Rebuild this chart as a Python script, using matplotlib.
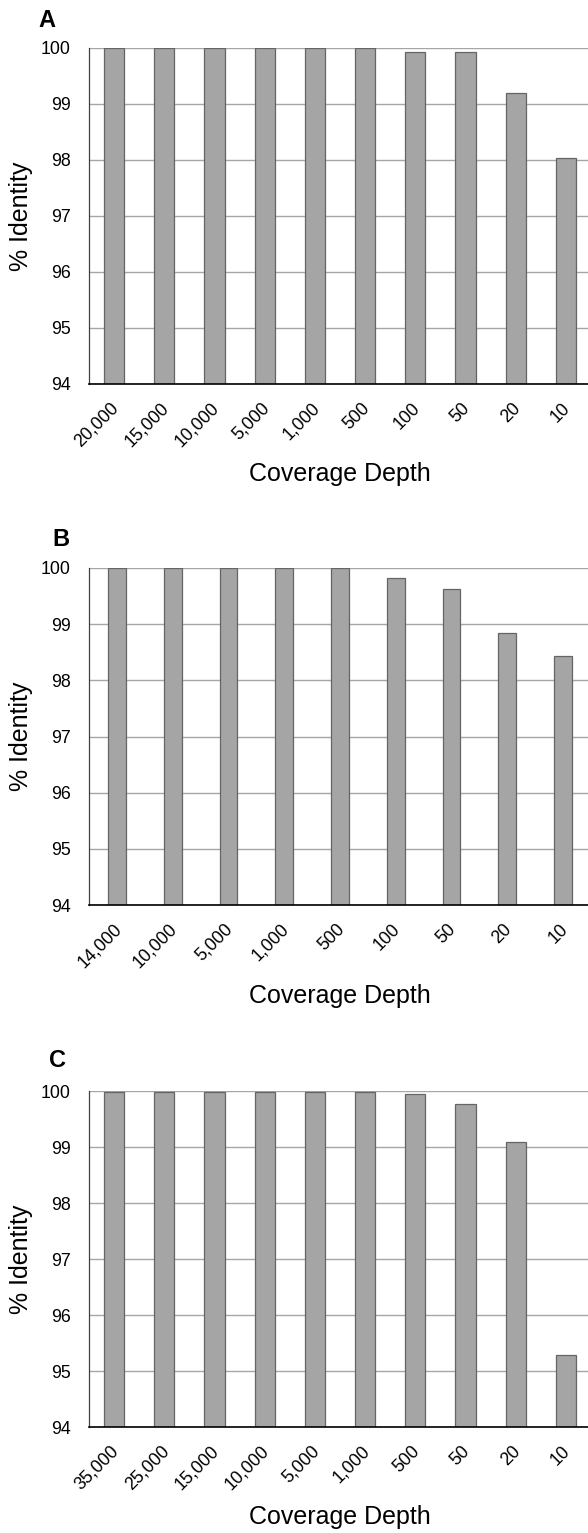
import matplotlib
matplotlib.use("Agg")
import matplotlib.pyplot as plt
import matplotlib.transforms as mtransforms

plt.rcParams['font.family'] = ['Liberation Sans', 'DejaVu Sans']

# coverage depth categories and % identity for the three panels
depth_a = ["20,000", "15,000", "10,000", "5,000", "1,000", "500", "100", "50", "20", "10"]
ident_a = [100, 100, 100, 100, 100, 100, 99.93, 99.93, 99.2, 98.04]

depth_b = ["14,000", "10,000", "5,000", "1,000", "500", "100", "50", "20", "10"]
ident_b = [100, 100, 100, 100, 100, 99.83, 99.63, 98.84, 98.44]

depth_c = ["35,000", "25,000", "15,000", "10,000", "5,000", "1,000", "500", "50", "20", "10"]
ident_c = [99.98, 99.98, 99.98, 99.98, 99.98, 99.98, 99.94, 99.77, 99.09, 95.29]

W, H = 588, 1533
fig = plt.figure(figsize=(W / 100, H / 100), dpi=100)

panels = [
    ("A", depth_a, ident_a, 48, 384, 0.40, 38, 27),
    ("B", depth_b, ident_b, 568, 905, 0.32, 52, 546),
    ("C", depth_c, ident_c, 1091, 1427, 0.40, 49, 1067),
]

shift = mtransforms.ScaledTranslation(-4 / 100, 0, fig.dpi_scale_trans)

for letter, cats, vals, top, bottom, bw, lx, ly in panels:
    left, right = 89, 591
    ax = fig.add_axes([left / W, 1 - bottom / H, (right - left) / W, (bottom - top) / H])
    x = list(range(len(cats)))
    ax.bar(x, vals, width=bw, color='#a5a5a5', edgecolor='#656565', linewidth=0.9, zorder=2)
    ax.set_xlim(-0.5, len(cats) - 0.5)
    ax.set_ylim(94, 100)
    ax.set_yticks([94, 95, 96, 97, 98, 99, 100])
    ax.set_xticks(x)
    ax.set_xticklabels(cats, rotation=45, ha='right', va='top', rotation_mode='anchor')
    ax.tick_params(axis='both', length=0, labelsize=12.8, colors='black')
    ax.tick_params(axis='y', pad=13)
    ax.tick_params(axis='x', pad=11)
    for lab in ax.get_xticklabels():
        lab.set_transform(lab.get_transform() + shift)
    ax.yaxis.grid(True, color='#a6a6a6', linewidth=1.0, zorder=0)
    ax.set_axisbelow(True)
    for s in ['top', 'right']:
        ax.spines[s].set_visible(False)
    ax.spines['left'].set_color('#404040')
    ax.spines['left'].set_linewidth(0.9)
    ax.spines['bottom'].set_color('black')
    ax.spines['bottom'].set_linewidth(1.2)
    ax.spines['bottom'].set_zorder(3)
    ax.set_ylabel("% Identity", fontsize=18)
    ax.yaxis.set_label_coords((33 - left) / (right - left), 0.5)
    ax.set_xlabel("Coverage Depth", fontsize=18, va='baseline')
    ax.xaxis.set_label_coords(0.5, -0.29)
    fig.text(lx / W, 1 - ly / H, letter, fontsize=17, fontweight='bold', va='baseline')

fig.savefig("out.png", dpi=100)
